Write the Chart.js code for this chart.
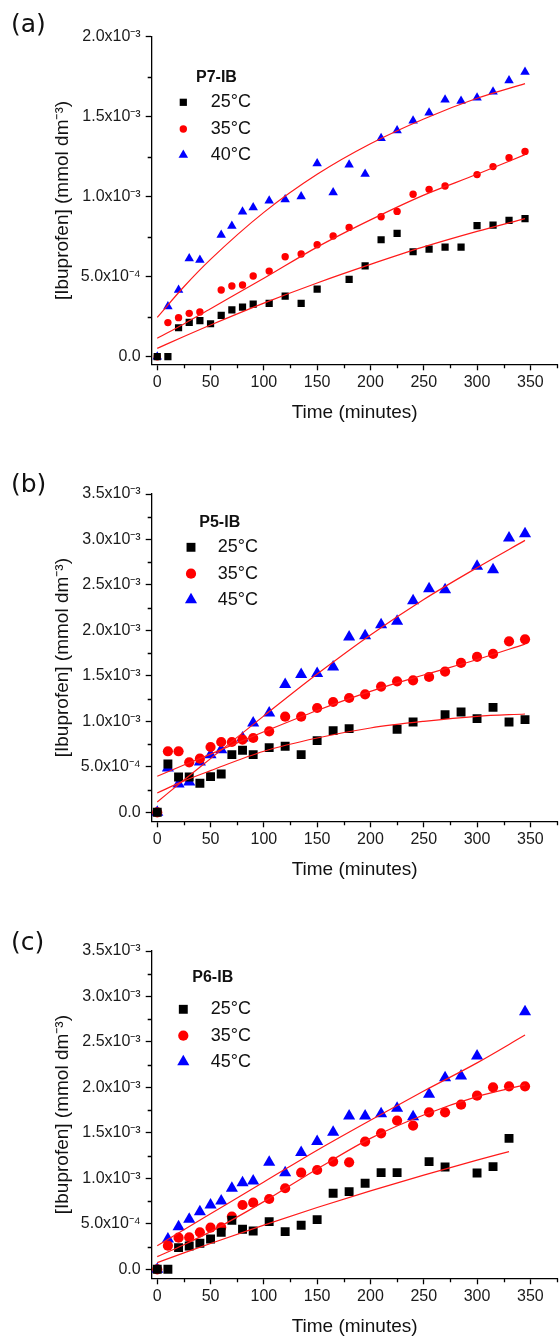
<!DOCTYPE html>
<html>
<head>
<meta charset="utf-8">
<script src="https://cdn.jsdelivr.net/npm/chart.js@4.4.0/dist/chart.umd.min.js"></script>
<style>
  html, body { margin: 0; padding: 0; background: #fff; }
  canvas { display: block; }
</style>
</head>
<body>
<canvas id="chartA" width="560" height="430"></canvas>
<canvas id="chartB" width="560" height="455"></canvas>
<canvas id="chartC" width="560" height="453"></canvas>
<script>
// ---- data (mmol dm-3 vs minutes) ----
const tA25 = [0,10,20,30,40,50,60,70,80,90,105,120,135,150,180,195,210,225,240,255,270,285,300,315,330,345];
const a25 = [0,0,1.81e-4,2.15e-4,2.25e-4,2.06e-4,2.58e-4,2.92e-4,3.10e-4,3.29e-4,3.33e-4,3.79e-4,3.33e-4,4.23e-4,4.83e-4,5.67e-4,7.31e-4,7.71e-4,6.56e-4,6.73e-4,6.85e-4,6.85e-4,8.19e-4,8.23e-4,8.52e-4,8.63e-4];
const tA35 = [0,10,20,30,40,60,70,80,90,105,120,135,150,165,180,210,225,240,255,270,300,315,330,345];
const a35 = [0,2.13e-4,2.44e-4,2.71e-4,2.79e-4,4.17e-4,4.42e-4,4.48e-4,5.04e-4,5.35e-4,6.25e-4,6.42e-4,7.00e-4,7.54e-4,8.08e-4,8.75e-4,9.08e-4,1.015e-3,1.046e-3,1.067e-3,1.138e-3,1.188e-3,1.244e-3,1.283e-3];
const tA40 = [0,10,20,30,40,60,70,80,90,105,120,135,150,165,180,195,210,225,240,255,270,285,300,315,330,345];
const a40 = [0,3.13e-4,4.17e-4,6.13e-4,6.04e-4,7.60e-4,8.17e-4,9.06e-4,9.33e-4,9.75e-4,9.83e-4,1.002e-3,1.208e-3,1.027e-3,1.200e-3,1.142e-3,1.365e-3,1.413e-3,1.475e-3,1.525e-3,1.606e-3,1.598e-3,1.619e-3,1.656e-3,1.727e-3,1.779e-3];

const tB25 = [0,10,20,30,40,50,60,70,80,90,105,120,135,150,165,180,225,240,270,285,300,315,330,345];
const b25 = [0,5.31e-4,3.88e-4,3.88e-4,3.19e-4,3.92e-4,4.21e-4,6.34e-4,6.82e-4,6.34e-4,7.11e-4,7.26e-4,6.34e-4,7.88e-4,8.98e-4,9.20e-4,9.13e-4,9.93e-4,1.074e-3,1.103e-3,1.030e-3,1.154e-3,9.93e-4,1.019e-3];
const tB35 = [0,10,20,30,40,50,60,70,80,90,105,120,135,150,165,180,195,210,225,240,255,270,285,300,315,330,345];
const b35 = [0,6.71e-4,6.71e-4,5.50e-4,5.90e-4,7.18e-4,7.73e-4,7.73e-4,8.00e-4,8.17e-4,8.90e-4,1.052e-3,1.052e-3,1.147e-3,1.213e-3,1.257e-3,1.297e-3,1.382e-3,1.440e-3,1.451e-3,1.488e-3,1.547e-3,1.642e-3,1.708e-3,1.741e-3,1.880e-3,1.902e-3];
const tB45 = [0,10,20,30,40,50,60,80,90,105,120,135,150,165,180,195,210,225,240,255,270,300,315,330,345];
const b45 = [0,4.87e-4,3.12e-4,3.33e-4,5.53e-4,6.34e-4,6.89e-4,8.17e-4,9.82e-4,1.092e-3,1.404e-3,1.514e-3,1.525e-3,1.598e-3,1.928e-3,1.942e-3,2.063e-3,2.100e-3,2.327e-3,2.459e-3,2.448e-3,2.705e-3,2.668e-3,3.016e-3,3.064e-3];

const tC25 = [0,10,20,30,40,50,60,70,80,90,105,120,135,150,165,180,195,210,225,255,270,300,315,330];
const c25 = [0,0,2.38e-4,2.57e-4,2.86e-4,3.34e-4,4.07e-4,5.39e-4,4.40e-4,4.21e-4,5.24e-4,4.14e-4,4.84e-4,5.46e-4,8.36e-4,8.54e-4,9.46e-4,1.063e-3,1.063e-3,1.184e-3,1.125e-3,1.059e-3,1.129e-3,1.440e-3];
const tC35 = [0,10,20,30,40,50,60,70,80,90,105,120,135,150,165,180,195,210,225,240,255,270,285,300,315,330,345];
const c35 = [0,2.60e-4,3.48e-4,3.50e-4,4.07e-4,4.58e-4,4.60e-4,5.79e-4,7.07e-4,7.33e-4,7.73e-4,8.91e-4,1.063e-3,1.092e-3,1.184e-3,1.176e-3,1.404e-3,1.495e-3,1.635e-3,1.580e-3,1.726e-3,1.726e-3,1.810e-3,1.909e-3,2.001e-3,2.012e-3,2.012e-3];
const tC45 = [0,10,20,30,40,50,60,70,80,90,105,120,135,150,165,180,195,210,225,240,255,270,285,300,345];
const c45 = [0,3.34e-4,4.69e-4,5.50e-4,6.34e-4,7.07e-4,7.51e-4,8.91e-4,9.53e-4,9.71e-4,1.176e-3,1.063e-3,1.283e-3,1.404e-3,1.506e-3,1.686e-3,1.686e-3,1.711e-3,1.770e-3,1.678e-3,1.924e-3,2.107e-3,2.126e-3,2.346e-3,2.833e-3];

// fitted curves
const fitT = [0,25,50,100,150,200,250,300,345];
const fitTc25 = [0,25,50,100,150,200,250,300,330];
const aFit25 = [0.52e-4,1.26e-4,1.98e-4,3.35e-4,4.61e-4,5.77e-4,6.86e-4,7.83e-4,8.63e-4];
const aFit35 = [1.15e-4,2.05e-4,3.00e-4,4.90e-4,6.85e-4,8.55e-4,1.010e-3,1.140e-3,1.263e-3];
const aFit40 = [2.46e-4,4.37e-4,6.08e-4,9.02e-4,1.140e-3,1.331e-3,1.486e-3,1.615e-3,1.707e-3];
const bFit25 = [2.13e-4,3.45e-4,4.58e-4,6.71e-4,8.17e-4,9.27e-4,1.000e-3,1.055e-3,1.081e-3];
const bFit35 = [3.96e-4,5.20e-4,6.40e-4,8.85e-4,1.120e-3,1.330e-3,1.510e-3,1.680e-3,1.850e-3];
const bFit45 = [1.14e-4,3.55e-4,5.90e-4,1.060e-3,1.520e-3,1.950e-3,2.340e-3,2.690e-3,2.990e-3];
const cFit25 = [0.73e-4,1.80e-4,2.84e-4,4.86e-4,6.79e-4,8.62e-4,1.036e-3,1.200e-3,1.294e-3];
const cFit35 = [1.39e-4,2.70e-4,4.14e-4,7.44e-4,1.103e-3,1.440e-3,1.697e-3,1.898e-3,2.027e-3];
const cFit45 = [2.60e-4,4.35e-4,6.10e-4,9.60e-4,1.310e-3,1.640e-3,1.960e-3,2.270e-3,2.576e-3];

// labels and ticks
const namesA = ['25°C', '35°C', '40°C'];
const namesBC = ['25°C', '35°C', '45°C'];
const xTicks = [0,25,50,75,100,125,150,175,200,225,250,275,300,325,350,375];
const xTickLabels = ['0','50','100','150','200','250','300','350'];
const yTicksA = [0,2.5e-4,5e-4,7.5e-4,1e-3,1.25e-3,1.5e-3,1.75e-3,2e-3];
const yTickLabelsA = ['0.0','5.0x10⁻⁴','1.0x10⁻³','1.5x10⁻³','2.0x10⁻³'];
const yTicksBC = [0,2.5e-4,5e-4,7.5e-4,1e-3,1.25e-3,1.5e-3,1.75e-3,2e-3,2.25e-3,2.5e-3,2.75e-3,3e-3,3.25e-3,3.5e-3];
const yTickLabelsBC = ['0.0','5.0x10⁻⁴','1.0x10⁻³','1.5x10⁻³','2.0x10⁻³','2.5x10⁻³','3.0x10⁻³','3.5x10⁻³'];

const COLORS = ['#000000', '#ff0000', '#0000ff'];
const SHAPES = ['rect', 'circle', 'triangle'];
Chart.defaults.font.family = '"Liberation Sans", Arial, sans-serif';

function drawMarker(ctx, shape, x, y, r, color) {
  ctx.save();
  ctx.fillStyle = color;
  ctx.beginPath();
  if (shape === 'rect') {
    const s = Math.SQRT1_2 * r;
    ctx.rect(x - s, y - s, 2 * s, 2 * s);
  } else if (shape === 'circle') {
    ctx.arc(x, y, r, 0, Math.PI * 2);
  } else {
    let a = 0;
    ctx.moveTo(x + Math.sin(a) * r, y - Math.cos(a) * r);
    a += Math.PI * 2 / 3;
    ctx.lineTo(x + Math.sin(a) * r, y - Math.cos(a) * r);
    a += Math.PI * 2 / 3;
    ctx.lineTo(x + Math.sin(a) * r, y - Math.cos(a) * r);
    ctx.closePath();
  }
  ctx.fill();
  ctx.restore();
}

// panel label, legend and minor ticks
const extrasPlugin = {
  id: 'extras',
  afterDraw(chart, args, p) {
    const ctx = chart.ctx;
    ctx.save();
    ctx.fillStyle = '#111';
    ctx.textBaseline = 'middle';
    ctx.textAlign = 'left';
    ctx.font = '25px "DejaVu Sans", sans-serif';
    ctx.fillText(p.panel, 11, p.panelY);

    ctx.font = 'bold 16px "Liberation Sans", Arial, sans-serif';
    ctx.fillText(p.title, p.titleX, p.titleY);
    ctx.font = '18px "Liberation Sans", Arial, sans-serif';
    p.names.forEach((n, i) => {
      drawMarker(ctx, SHAPES[i], p.markX, p.rows[i], p.radius[i], COLORS[i]);
      ctx.fillStyle = '#111';
      ctx.fillText(n, p.textX, p.rows[i]);
    });

    // short minor ticks
    const xs = chart.scales.x, ys = chart.scales.y;
    ctx.strokeStyle = '#000';
    ctx.lineWidth = 1.3;
    ctx.beginPath();
    xs.ticks.forEach((t, i) => {
      if (i % 2) {
        const px = Math.round(xs.getPixelForValue(t.value)) + 0.5;
        ctx.moveTo(px, chart.chartArea.bottom);
        ctx.lineTo(px, chart.chartArea.bottom + 4);
      }
    });
    ys.ticks.forEach((t, i) => {
      if (i % 2) {
        const py = Math.round(ys.getPixelForValue(t.value)) + 0.5;
        ctx.moveTo(chart.chartArea.left, py);
        ctx.lineTo(chart.chartArea.left - 4, py);
      }
    });
    ctx.stroke();
    ctx.restore();
  }
};

function makeChart(id, p) {
  const datasets = [];
  p.series.forEach((s, i) => {
    datasets.push({
      type: 'scatter',
      label: p.names[i],
      data: s.t.map((t, k) => ({ x: t, y: s.v[k] })),
      pointStyle: SHAPES[i],
      pointRadius: p.radius[i],
      pointBackgroundColor: COLORS[i],
      pointBorderWidth: 0,
      order: 2
    });
    datasets.push({
      type: 'line',
      label: 'fit ' + p.names[i],
      data: s.ft.map((t, k) => ({ x: t, y: s.fv[k] })),
      borderColor: '#ff1a1a',
      borderWidth: 1.2,
      pointRadius: 0,
      cubicInterpolationMode: 'monotone',
      fill: false,
      order: 1
    });
  });

  return new Chart(document.getElementById(id), {
    type: 'scatter',
    data: { datasets },
    plugins: [extrasPlugin],
    options: {
      responsive: false,
      animation: false,
      devicePixelRatio: 1,
      layout: { autoPadding: false, padding: { left: 51, right: 0, top: p.top, bottom: p.padBottom } },
      plugins: {
        legend: { display: false },
        tooltip: { enabled: false },
        extras: p
      },
      scales: {
        x: {
          type: 'linear',
          min: -5.2,
          max: 375.5,
          afterBuildTicks: ax => { ax.ticks = xTicks.map(v => ({ value: v })); },
          afterFit: ax => { ax.height = p.xHeight; },
          ticks: {
            autoSkip: false, maxRotation: 0, padding: 3, color: '#1a1a1a',
            font: { size: 16 },
            callback: (v, i) => (i % 2 === 0 ? xTickLabels[i / 2] : '')
          },
          grid: {
            drawOnChartArea: false, tickLength: 6, tickWidth: 1.3,
            tickColor: c => (c.index % 2 ? 'rgba(0,0,0,0)' : '#000')
          },
          border: { color: '#000', width: 1.3 },
          title: { display: true, text: 'Time (minutes)', color: '#111', font: { size: 19 }, padding: 0 }
        },
        y: {
          type: 'linear',
          min: p.yMin,
          max: p.yMax,
          afterBuildTicks: ax => { ax.ticks = p.yTicks.map(v => ({ value: v })); },
          afterFit: ax => { ax.width = 151.7 - 51; },
          ticks: {
            autoSkip: false, padding: 5, color: '#1a1a1a',
            font: { size: 16 },
            callback: (v, i) => (i % 2 === 0 ? p.yLabels[i / 2] : '')
          },
          grid: {
            drawOnChartArea: false, tickLength: 6, tickWidth: 1.3,
            tickColor: c => (c.index % 2 ? 'rgba(0,0,0,0)' : '#000')
          },
          border: { color: '#000', width: 1.3 },
          title: { display: true, text: '[Ibuprofen] (mmol dm⁻³)', color: '#111', font: { size: 19 }, padding: 0 }
        }
      }
    }
  });
}

makeChart('chartA', {
  panel: '(a)', panelY: 25,
  title: 'P7-IB', titleX: 196, titleY: 78,
  names: namesA, markX: 183.3, textX: 210.7, rows: [102.3, 129, 155],
  radius: [5.1, 3.7, 5.5],
  top: 36.7, padBottom: 6, xHeight: 59.7,
  yMin: -4.75e-5, yMax: 2e-3, yTicks: yTicksA, yLabels: yTickLabelsA,
  series: [
    { t: tA25, v: a25, ft: fitT, fv: aFit25 },
    { t: tA35, v: a35, ft: fitT, fv: aFit35 },
    { t: tA40, v: a40, ft: fitT, fv: aFit40 }
  ]
});

makeChart('chartB', {
  panel: '(b)', panelY: 55,
  title: 'P5-IB', titleX: 199.3, titleY: 93,
  names: namesBC, markX: 191, textX: 217.7, rows: [117.3, 143.7, 169.7],
  radius: [6.3, 5.1, 7],
  top: 64, padBottom: 3.8, xHeight: 59.9,
  yMin: -0.99e-4, yMax: 3.5e-3, yTicks: yTicksBC, yLabels: yTickLabelsBC,
  series: [
    { t: tB25, v: b25, ft: fitT, fv: bFit25 },
    { t: tB35, v: b35, ft: fitT, fv: bFit35 },
    { t: tB45, v: b45, ft: fitT, fv: bFit45 }
  ]
});

makeChart('chartC', {
  panel: '(c)', panelY: 58.3,
  title: 'P6-IB', titleX: 192.3, titleY: 92.3,
  names: namesBC, markX: 183.3, textX: 210.7, rows: [124.3, 150.7, 176.7],
  radius: [6.3, 5.1, 7],
  top: 66, padBottom: 0.3, xHeight: 59.4,
  yMin: -0.99e-4, yMax: 3.5e-3, yTicks: yTicksBC, yLabels: yTickLabelsBC,
  series: [
    { t: tC25, v: c25, ft: fitTc25, fv: cFit25 },
    { t: tC35, v: c35, ft: fitT, fv: cFit35 },
    { t: tC45, v: c45, ft: fitT, fv: cFit45 }
  ]
});
</script>
</body>
</html>
